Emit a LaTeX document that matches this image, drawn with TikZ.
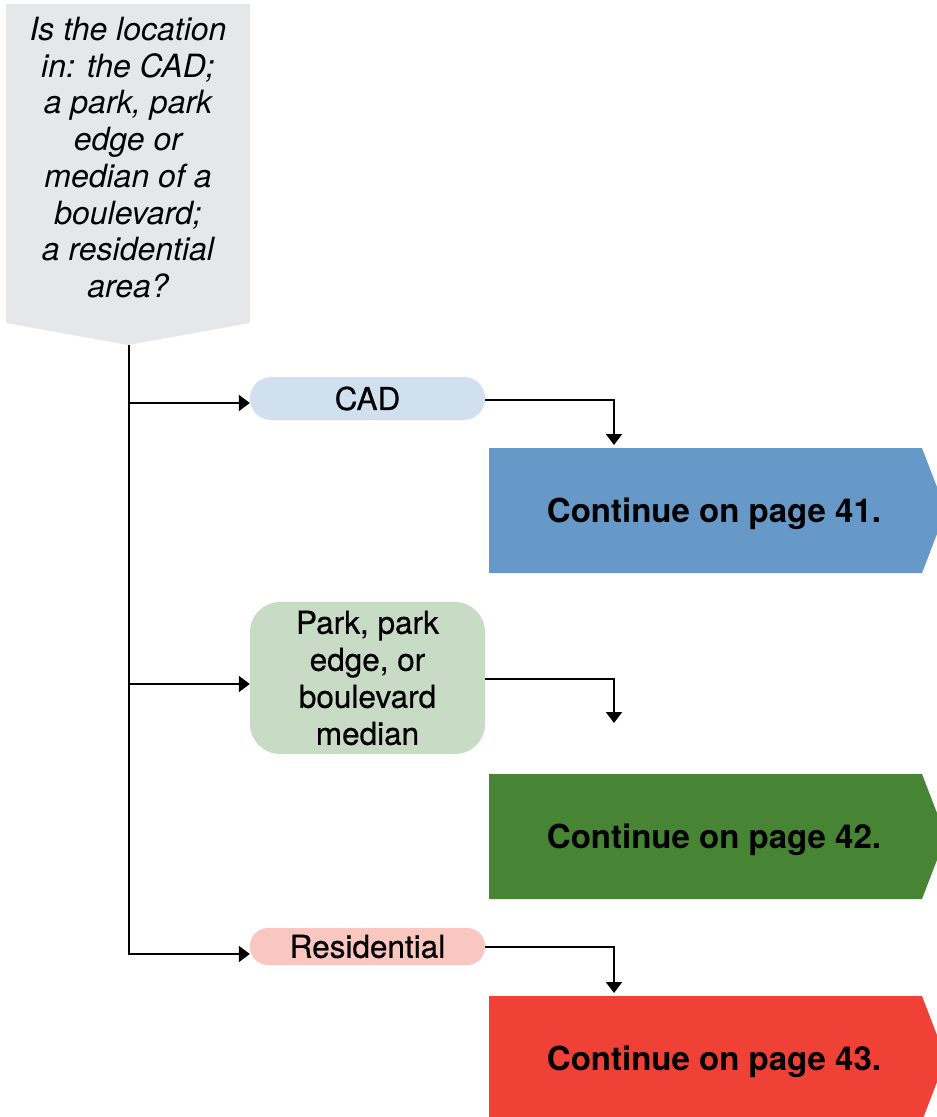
\documentclass[tikz,border=0pt]{standalone}
\usepackage{fontspec}
\setmainfont{TeX Gyre Heros}
\usetikzlibrary{arrows.meta}
\definecolor{qgray}{RGB}{230,231,232}
\definecolor{cadpill}{RGB}{208,224,238}
\definecolor{parkpill}{RGB}{200,219,196}
\definecolor{respill}{RGB}{249,198,192}
\definecolor{bluebox}{RGB}{102,153,199}
\definecolor{greenbox}{RGB}{71,132,52}
\definecolor{redbox}{RGB}{239,65,54}
\begin{document}
\begin{tikzpicture}[x=1pt,y=-1pt,
  arr/.style={line width=2pt,-{Triangle[length=11pt,width=16pt]}},
  pill/.style={rounded corners=#1, minimum width=235pt, align=center, inner sep=0pt,
    font=\fontsize{31.5}{37}\selectfont\addfontfeature{FakeBold=0.6}},
  conttext/.style={font=\fontsize{33}{40}\selectfont\bfseries, inner sep=0pt},
  qtext/.style={font=\fontsize{32}{36.7}\selectfont\itshape, align=center, inner sep=0pt}]
\useasboundingbox (0,0) rectangle (937,1117);

% question box
\fill[qgray] (6,4) -- (250,4) -- (250,323) -- (128,345) -- (6,323) -- cycle;
\node[qtext, anchor=north] (q) at (128,17) {Is the location\\in: the CAD;\\a park, park\\edge or\\median of a\\boulevard;\\a residential\\area?};
\coordinate (qtip) at (129,345);

% pills
\node[pill=21pt, fill=cadpill, minimum height=43pt] (cad) at (367.5,398.5) {CAD};
\node[pill=30pt, fill=parkpill, minimum height=152pt] (park) at (367.5,678) {Park, park\\edge, or\\boulevard\\median};
\node[pill=18pt, fill=respill, minimum height=37pt] (res) at (367.5,946.5) {Residential};

% continue boxes
\fill[bluebox] (489,448) -- (922,448) -- (946,510.5) -- (922,573) -- (489,573) -- cycle;
\node[conttext] (b1) at (714,514) {Continue on page 41.};
\fill[greenbox] (489,774) -- (922,774) -- (946,836.5) -- (922,899) -- (489,899) -- cycle;
\node[conttext] (b2) at (714,840) {Continue on page 42.};
\fill[redbox] (489,996) -- (922,996) -- (946,1058.5) -- (922,1121) -- (489,1121) -- cycle;
\node[conttext] (b3) at (714,1062) {Continue on page 43.};

\coordinate (e1) at (614,445);
\coordinate (e2) at (614,723);
\coordinate (e3) at (614,993);

% connectors
\draw[arr] (qtip) |- ([yshift=-4.5pt]cad.west);
\draw[arr] (qtip) |- ([yshift=-6pt]park.west);
\draw[arr] (qtip) |- ([yshift=-7.5pt]res.west);
\draw[arr] ([yshift=-1.5pt]cad.east) -| (e1);
\draw[arr] ([yshift=-1pt]park.east) -| (e2);
\draw[arr] ([yshift=-0.5pt]res.east) -| (e3);
\end{tikzpicture}
\end{document}
